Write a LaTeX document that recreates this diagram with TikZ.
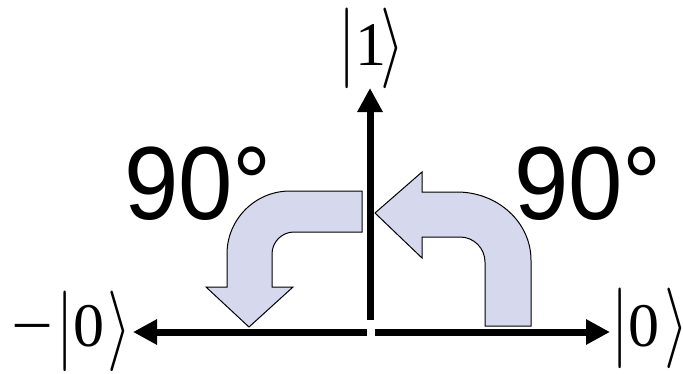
\documentclass[tikz,border=0pt]{standalone}
\usepackage{fix-cm}
\usepackage{fontspec}
\setmainfont{Liberation Serif}
\newfontfamily\arialf{Liberation Sans}
\usetikzlibrary{arrows.meta}
\definecolor{arrfill}{RGB}{214,216,237}
\newcommand\ketbar[1]{\raisebox{#1}{\scalebox{1}[1.3]{$|$}}}
\newcommand\ketang[1]{\raisebox{#1}{\scalebox{1}[1.3]{$\rangle$}}}
% #1 raise, #2 kern bar-digit, #3 digit, #4 kern digit-bracket
\newcommand\ketlab[4]{\ketbar{#1}\kern#2{#3}\kern#4\ketang{#1}}
\tikzset{
  blockarrow/.style={fill=arrfill, draw=black, line width=1pt, line join=miter},
  axisline/.style={line width=7pt, -{Triangle[length=24pt,width=24pt]}},
  deg/.style={inner sep=0pt, anchor=base west, font=\arialf\fontsize{104}{110}\selectfont},
  ketnode/.style={inner sep=0pt, anchor=base west, font=\fontsize{62}{74}\selectfont},
}
\begin{document}
\begin{tikzpicture}[x=1pt,y=-1pt]
\useasboundingbox (0,0) rectangle (683,373);
% block arrows
\draw[blockarrow] (362,191) -- (290,191) .. controls (255.2,191) and (227,219.2) .. (227,254)
  -- (227,287) -- (206,287) -- (249,327) -- (293,287) -- (272,287) -- (272,254)
  .. controls (272,241.9) and (281.9,232) .. (294,232) -- (362,232) -- cycle;
\draw[blockarrow] (375,213) -- (422,172) -- (422,192) -- (457,192)
  .. controls (497.9,192) and (531,222.5) .. (531,260) -- (531,326) -- (485,326) -- (485,262)
  .. controls (485,248.2) and (473.8,237) .. (460,237) -- (422,237) -- (422,258) -- cycle;
% axes
\coordinate (vB) at (370,320);
\coordinate (vT) at (370,88);
\coordinate (hL0) at (367,332);
\coordinate (hL) at (133,332);
\coordinate (hR0) at (375,332);
\coordinate (hR) at (610,332);
\draw[axisline] (vB) -- (vT);
\draw[axisline] (hL0) -- (hL);
\draw[axisline] (hR0) -- (hR);
% labels
\node[deg] (degL) at (124,219) {\scalebox{0.94}[1]{90°}};
\node[deg] (degR) at (514,219) {\scalebox{0.94}[1]{90°}};
\node[ketnode] (ket1) at (338.4,65) {\ketlab{-3.5pt}{0pt}{1}{-6pt}};
\node[ketnode] (ketm0) at (10.9,346) {\scalebox{1.2}[1]{−}\kern3.2pt\ketlab{-5.7pt}{-0.1pt}{0}{3.4pt}};
\node[ketnode] (ket0) at (610.9,346) {\ketlab{-2pt}{0.4pt}{0}{4.4pt}};
\end{tikzpicture}
\end{document}
